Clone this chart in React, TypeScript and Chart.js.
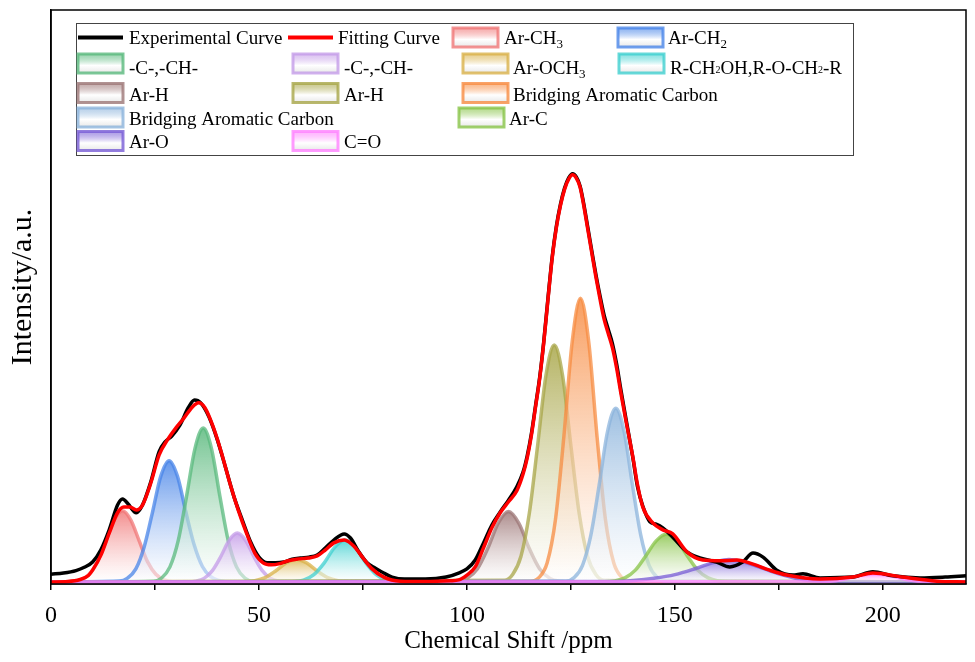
import React, { useEffect, useRef } from 'react';
import Chart from 'chart.js/auto';

const FONT = '"Liberation Serif", "Times New Roman", serif';

// [ppm, intensity] (main peak = 100)
const expCurve = [
  [0, 1.9], [3, 2.2], [6, 2.8], [8, 3.6], [10, 4.9], [12, 7.9], [14, 12.8], [16, 18.9], [17.2, 20.4],
  [18.5, 19.2], [20.5, 17], [22, 18.9], [24, 24.6], [26, 32], [27.5, 34.5], [29, 35.8], [31, 38.5],
  [33, 42.8], [34.5, 44.7], [36, 44], [38, 40.5], [40, 34.9], [42, 28], [44, 20.9], [46, 15.2],
  [48, 9.8], [50, 6.1], [52, 4.7], [54, 4.7], [56, 4.9], [58, 5.6], [60, 5.9], [62, 6.1], [64, 6.6],
  [66, 8.4], [68, 10.3], [70.5, 11.8], [72, 10.8], [74, 7.4], [76, 4.7], [78, 3.4], [80, 2.2],
  [82, 1.2], [85, 0.7], [90, 0.7], [95, 1.2], [98, 2.2], [100, 3.2], [102, 5.4], [104, 9.6],
  [106, 14], [108, 17.2], [110, 20.1], [112, 23.4], [113.5, 27], [114.5, 31], [115.5, 36.4],
  [116.5, 43.3], [117.5, 50.3], [118.5, 59.3], [119.5, 69.8], [120.5, 79.8], [121.5, 87.3],
  [122.5, 92.8], [123.5, 96.8], [124.5, 99.3], [125.4, 100.3], [126.3, 99.5], [127.2, 97.3],
  [128, 93.4], [129, 87.5], [130, 81.5], [131, 75.6], [132, 70.3], [133, 65.5], [134, 62],
  [135, 58.5], [136, 53.5], [137, 47.3], [138.2, 40.3], [139.9, 30.5], [141, 23.5], [142.3, 18.6],
  [144, 14.8], [145.5, 14.2], [147.1, 13.3], [149.5, 11], [152.9, 7.4], [156, 5.9], [160, 4.9],
  [163.2, 3.7], [166.3, 4.9], [168.8, 7.1], [171.2, 6.1], [174.5, 2.9], [178.4, 1.7], [180.8, 2],
  [184.9, 1], [192.8, 1.2], [197.6, 2.5], [202.4, 1.5], [209, 1], [215, 1.2], [220, 1.5],
];

const fitCurve = [
  [0, 0], [4, 0.1], [7, 0.6], [9, 1.6], [10, 2.9], [12, 6.6], [14, 12], [16, 17], [17.5, 18.4],
  [19, 18.4], [20.5, 17.7], [22, 18.9], [24, 24.3], [26, 31.2], [28, 34.9], [30, 37.8], [32, 40.3],
  [34, 43], [35.5, 44], [37, 42.8], [39, 38.1], [41, 31.7], [43, 24.3], [45, 17.7], [47, 12],
  [49, 7.1], [51, 4.7], [53, 4.2], [55, 4.5], [57, 5.2], [59, 5.6], [62, 5.9], [64, 6.4], [66, 7.9],
  [68, 9.6], [70.5, 10.3], [73, 8.6], [75, 5.9], [77, 3.4], [80, 1.2], [84, 0.2], [90, 0.1],
  [96, 0.3], [98, 0.5], [100, 1.7], [102, 3.7], [104, 8.4], [106, 13.3], [108, 17], [110, 19.7],
  [112, 22.4], [113.5, 26.5], [114.5, 30.5], [115.5, 36], [116.5, 43], [117.5, 50], [118.5, 59],
  [119.5, 69.5], [120.5, 79.5], [121.5, 87], [122.5, 92.5], [123.5, 96.5], [124.5, 99],
  [125.4, 100], [126.3, 99.2], [127.2, 97], [128, 93], [129, 87], [130, 81], [131, 75], [132, 69.5],
  [133, 64.5], [134, 61], [135, 57.5], [136, 52.5], [137, 46.5], [138.2, 39.8], [139.9, 30.7],
  [141, 24], [142.3, 18.4], [144.7, 14.5], [147.1, 12.8], [149.5, 11.8], [152.9, 7.4],
  [156.7, 5.4], [160.8, 5.2], [164.9, 5.4], [168.8, 4.4], [172.8, 2.9], [176.9, 1.7], [184.9, 0.7],
  [192.8, 1.2], [197.6, 2.2], [204.8, 1.2], [213, 0.2], [220, 0],
];

// fitted component peaks
const arCH3 = [[0, 0], [5.2, 0.12], [7.2, 0.55], [9.2, 1.9], [11.2, 5], [13.2, 10.1], [15.2, 15.2], [17.2, 17.5], [19.2, 15.2], [21.2, 10.1], [23.2, 5], [25.2, 1.9], [27.2, 0.55], [29.2, 0.12], [220, 0]];
const arCH2 = [[0, 0], [16.4, 0.21], [18.4, 0.94], [20.4, 3.2], [22.4, 8.6], [24.4, 17.1], [26.4, 26], [28.4, 29.8], [30.4, 26], [32.4, 17.3], [34.4, 9.2], [36.4, 3.8], [38.4, 1.3], [40.4, 0.35], [42.4, 0.08], [220, 0]];
const aliphGreen = [[0, 0], [24.6, 0.2], [26.6, 0.98], [28.6, 3.7], [30.6, 10.2], [32.6, 21.1], [34.6, 32.7], [36.6, 37.8], [38.6, 32.7], [40.6, 21.1], [42.6, 10.2], [44.6, 3.7], [46.6, 0.98], [48.6, 0.2], [220, 0]];
const aliphPurple = [[0, 0], [32.8, 0.03], [34.8, 0.2], [36.8, 0.88], [38.8, 2.8], [40.8, 6.2], [42.8, 10.2], [44.8, 12], [46.8, 10.2], [48.8, 6.2], [50.8, 2.8], [52.8, 0.88], [54.8, 0.2], [56.8, 0.03], [220, 0]];
const arOCH3 = [[0, 0], [46.5, 0.05], [49, 0.29], [51.5, 1.05], [54, 2.7], [56.5, 4.65], [59, 5.6], [61.5, 4.65], [64, 2.7], [66.5, 1.05], [69, 0.29], [71.5, 0.05], [220, 0]];
const ether = [[0, 0], [58.2, 0.08], [60.7, 0.45], [63.2, 1.8], [65.7, 4.7], [68.2, 8.5], [70.7, 10.3], [73.2, 8.5], [75.7, 4.7], [78.2, 1.8], [80.7, 0.45], [83.2, 0.08], [220, 0]];
const arHBrown = [[0, 0], [95, 0.02], [97.5, 0.17], [100, 0.88], [102.5, 3.2], [105, 8.2], [107.5, 14.4], [110, 17.3], [112.5, 14.4], [115, 8.2], [117.5, 3.2], [120, 0.88], [122.5, 0.17], [125, 0.02], [220, 0]];
const arHOlive = [[0, 0], [109, 0.4], [111, 1.83], [113, 6.3], [115, 16.8], [117, 33.5], [119, 50.7], [121, 58.2], [123, 50.7], [125, 33.5], [127, 16.8], [129, 6.3], [131, 1.83], [133, 0.4], [220, 0]];
const bridgeOrange = [[0, 0], [115.3, 0.16], [117.3, 1.05], [119.3, 4.7], [121.3, 15.4], [123.3, 35.6], [125.3, 58.9], [127.3, 69.7], [129.3, 58.9], [131.3, 35.6], [133.3, 15.4], [135.3, 4.7], [137.3, 1.05], [139.3, 0.16], [220, 0]];
const bridgeBlue = [[0, 0], [123.8, 0.22], [125.8, 1.1], [127.8, 4.1], [129.8, 11.5], [131.8, 23.8], [133.8, 36.9], [135.8, 42.7], [137.8, 36.9], [139.8, 23.8], [141.8, 11.5], [143.8, 4.1], [145.8, 1.1], [147.8, 0.22], [220, 0]];
const arC = [[0, 0], [133, 0.05], [135.5, 0.25], [138, 1], [140.5, 2.9], [143, 6.4], [145.5, 10.1], [148, 11.8], [150.5, 10.1], [153, 6.4], [155.5, 2.9], [158, 1], [160.5, 0.25], [163, 0.05], [220, 0]];
const arO = [[0, 0], [135, 0.1], [140, 0.35], [145, 0.9], [150, 1.8], [155, 3.3], [160, 5], [163, 5.5], [166, 5.1], [170, 3.8], [175, 2], [180, 0.7], [186, 0.15], [192, 0.02], [220, 0]];
const carbonyl = [[0, 0], [185, 0.07], [190, 0.56], [194, 1.5], [198, 2], [202, 1.5], [206, 0.56], [211, 0.07], [220, 0]];

const xTicks = [0, 50, 100, 150, 200];

type Seg = [string, string?];
interface Peak { name: string; label: Seg[]; rgb: string; pts: number[][] }

const peaks: Peak[] = [
  { name: 'Ar-CH3', label: [['Ar-CH'], ['3', 'sub']], rgb: '240,120,120', pts: arCH3 },
  { name: 'Ar-CH2', label: [['Ar-CH'], ['2', 'sub']], rgb: '74,134,232', pts: arCH2 },
  { name: '-C-,-CH-', label: [['-C-,-CH-']], rgb: '90,185,125', pts: aliphGreen },
  { name: '-C-,-CH-', label: [['-C-,-CH-']], rgb: '196,156,232', pts: aliphPurple },
  { name: 'Ar-OCH3', label: [['Ar-OCH'], ['3', 'sub']], rgb: '217,178,74', pts: arOCH3 },
  { name: 'R-CH2OH,R-O-CH2-R', label: [['R-CH'], ['2', 'tiny'], ['OH,R-O-CH'], ['2', 'tiny'], ['-R']], rgb: '64,208,208', pts: ether },
  { name: 'Ar-H', label: [['Ar-H']], rgb: '158,120,120', pts: arHBrown },
  { name: 'Ar-H', label: [['Ar-H']], rgb: '168,166,72', pts: arHOlive },
  { name: 'Bridging Aromatic Carbon', label: [['Bridging Aromatic Carbon']], rgb: '247,140,66', pts: bridgeOrange },
  { name: 'Bridging Aromatic Carbon', label: [['Bridging Aromatic Carbon']], rgb: '140,180,220', pts: bridgeBlue },
  { name: 'Ar-C', label: [['Ar-C']], rgb: '136,196,72', pts: arC },
  { name: 'Ar-O', label: [['Ar-O']], rgb: '120,92,214', pts: arO },
  { name: 'C=O', label: [['C=O']], rgb: '255,130,255', pts: carbonyl },
];

const toXY = (pts: number[][]) => pts.map(([x, y]) => ({ x, y }));

// legend slots: [swatch x, text x, row] per peak
const rowText = [38, 68, 94.5, 118.5, 141.5];
const rowBox = [37.5, 63.5, 93, 117.5, 141];
const slots = [
  [453, 504, 0], [618, 668, 0],
  [78, 129, 1], [293, 344, 1], [463, 513, 1], [619, 670, 1],
  [78, 129, 2], [293, 344, 2], [463, 513, 2],
  [78, 129, 3], [459, 509, 3],
  [78, 129, 4], [293, 344, 4],
];

const drawLabel = (c: CanvasRenderingContext2D, segs: Seg[], x: number, cy: number) => {
  const base = cy + 6.3;
  c.textBaseline = 'alphabetic';
  c.textAlign = 'left';
  c.fillStyle = '#000';
  let cx = x;
  for (const [t, kind] of segs) {
    if (kind === 'sub') {
      c.font = `13px ${FONT}`;
      c.fillText(t, cx, base + 4);
    } else if (kind === 'tiny') {
      c.font = `10px ${FONT}`;
      c.fillText(t, cx, base - 1);
    } else {
      c.font = `19px ${FONT}`;
      c.fillText(t, cx, base);
    }
    cx += c.measureText(t).width;
  }
};

const legendPlugin = {
  id: 'boxLegend',
  afterDraw(chart: any) {
    const c: CanvasRenderingContext2D = chart.ctx;
    const { left, top, right, bottom } = chart.chartArea;
    c.save();
    // plot frame
    c.strokeStyle = '#000';
    c.lineWidth = 1.5;
    c.strokeRect(left, top, right - left, bottom - top);

    // y axis title, drawn by hand so it can sit a little above centre
    c.save();
    c.translate(23, 287);
    c.rotate(-Math.PI / 2);
    c.font = `30px ${FONT}`;
    c.fillStyle = '#000';
    c.textAlign = 'center';
    c.textBaseline = 'middle';
    c.fillText('Intensity/a.u.', 0, 0);
    c.restore();

    c.fillStyle = '#fff';
    c.fillRect(76.5, 23.5, 777, 132);
    c.strokeStyle = '#444';
    c.lineWidth = 1;
    c.strokeRect(76.5, 23.5, 777, 132);

    // line entries
    c.lineWidth = 4;
    c.strokeStyle = '#000';
    c.beginPath(); c.moveTo(78, rowBox[0]); c.lineTo(123, rowBox[0]); c.stroke();
    drawLabel(c, [['Experimental Curve']], 129, rowText[0]);
    c.strokeStyle = '#ff0000';
    c.beginPath(); c.moveTo(288, rowBox[0]); c.lineTo(333, rowBox[0]); c.stroke();
    drawLabel(c, [['Fitting Curve']], 338, rowText[0]);

    peaks.forEach((p, i) => {
      const [sx, tx, row] = slots[i];
      const cy = rowBox[row];
      const w = 45, h = 19;
      const g = c.createLinearGradient(0, cy - h / 2, 0, cy + h / 2);
      g.addColorStop(0, `rgba(${p.rgb},0.6)`);
      g.addColorStop(0.6, 'rgba(255,255,255,1)');
      g.addColorStop(1, 'rgba(232,232,232,1)');
      c.fillStyle = g;
      c.fillRect(sx, cy - h / 2, w, h);
      c.strokeStyle = `rgba(${p.rgb},0.8)`;
      c.lineWidth = 3;
      c.strokeRect(sx, cy - h / 2, w, h);
      drawLabel(c, p.label, tx, rowText[row]);
    });
    c.restore();
  },
};

const gradientFill = (rgb: string, peakTop: number) => (ctx: any) => {
  const { chart } = ctx;
  const { chartArea, scales } = chart;
  if (!chartArea) return `rgba(${rgb},0.4)`;
  const y0 = scales.y.getPixelForValue(peakTop);
  const y1 = scales.y.getPixelForValue(0);
  const g = chart.ctx.createLinearGradient(0, y0, 0, y1);
  g.addColorStop(0, `rgba(${rgb},0.85)`);
  g.addColorStop(1, 'rgba(255,255,255,0.5)');
  return g;
};

const App: React.FC = () => {
  const canvasRef = useRef<HTMLCanvasElement | null>(null);

  useEffect(() => {
    if (!canvasRef.current) return;

    const peakSets = peaks.map((p, i) => ({
      label: p.name,
      data: toXY(p.pts),
      borderColor: `rgba(${p.rgb},0.75)`,
      borderWidth: 3.5,
      backgroundColor: gradientFill(p.rgb, Math.max(...p.pts.map(q => q[1]))),
      fill: 'origin',
      cubicInterpolationMode: 'monotone' as const,
      pointRadius: 0,
      order: 15 - i,
    }));

    const chart = new Chart(canvasRef.current, {
      type: 'line',
      data: {
        datasets: [
          {
            label: 'Fitting Curve',
            data: toXY(fitCurve),
            borderColor: '#ff0000',
            borderWidth: 3.5,
            fill: false,
            cubicInterpolationMode: 'monotone',
            pointRadius: 0,
            order: 0,
          },
          {
            label: 'Experimental Curve',
            data: toXY(expCurve),
            borderColor: '#000000',
            borderWidth: 3.5,
            fill: false,
            cubicInterpolationMode: 'monotone',
            pointRadius: 0,
            order: 1,
          },
          ...peakSets,
        ] as any,
      },
      options: {
        animation: false,
        responsive: false,
        events: [],
        layout: { padding: { top: 10, right: 9, left: 0, bottom: 0 } },
        plugins: { legend: { display: false }, tooltip: { enabled: false } },
        scales: {
          x: {
            type: 'linear',
            min: 0,
            max: 220,
            afterFit: (s: any) => { s.height = 78; },
            afterBuildTicks: (s: any) => { s.ticks = s.ticks.filter((t: any) => t.value % 25 === 0); },
            ticks: {
              stepSize: 25,
              autoSkip: false,
              maxRotation: 0,
              color: '#000',
              padding: 11,
              font: { family: FONT, size: 24 },
              callback: (v: any) => (xTicks.includes(Number(v)) ? String(v) : ''),
            },
            grid: { drawOnChartArea: false, drawTicks: true, tickLength: 6, color: '#000', lineWidth: 1.5 },
            border: { color: '#000', width: 1.5 },
            title: {
              display: true,
              text: 'Chemical Shift /ppm',
              color: '#000',
              font: { family: FONT, size: 25 },
              padding: { top: 0, bottom: 6 },
            },
          },
          y: {
            min: -0.5,
            max: 140.5,
            afterFit: (s: any) => { s.width = 51; },
            ticks: { display: false },
            grid: { display: false },
            border: { color: '#000', width: 1.5 },
            title: { display: false },
          },
        },
      },
      plugins: [legendPlugin],
    });

    return () => chart.destroy();
  }, []);

  return (
    <div style={{ position: 'fixed', left: 0, top: 0, width: 975, height: 662, background: '#fff' }}>
      <canvas ref={canvasRef} width={975} height={662} style={{ display: 'block' }} />
    </div>
  );
};

export default App;
